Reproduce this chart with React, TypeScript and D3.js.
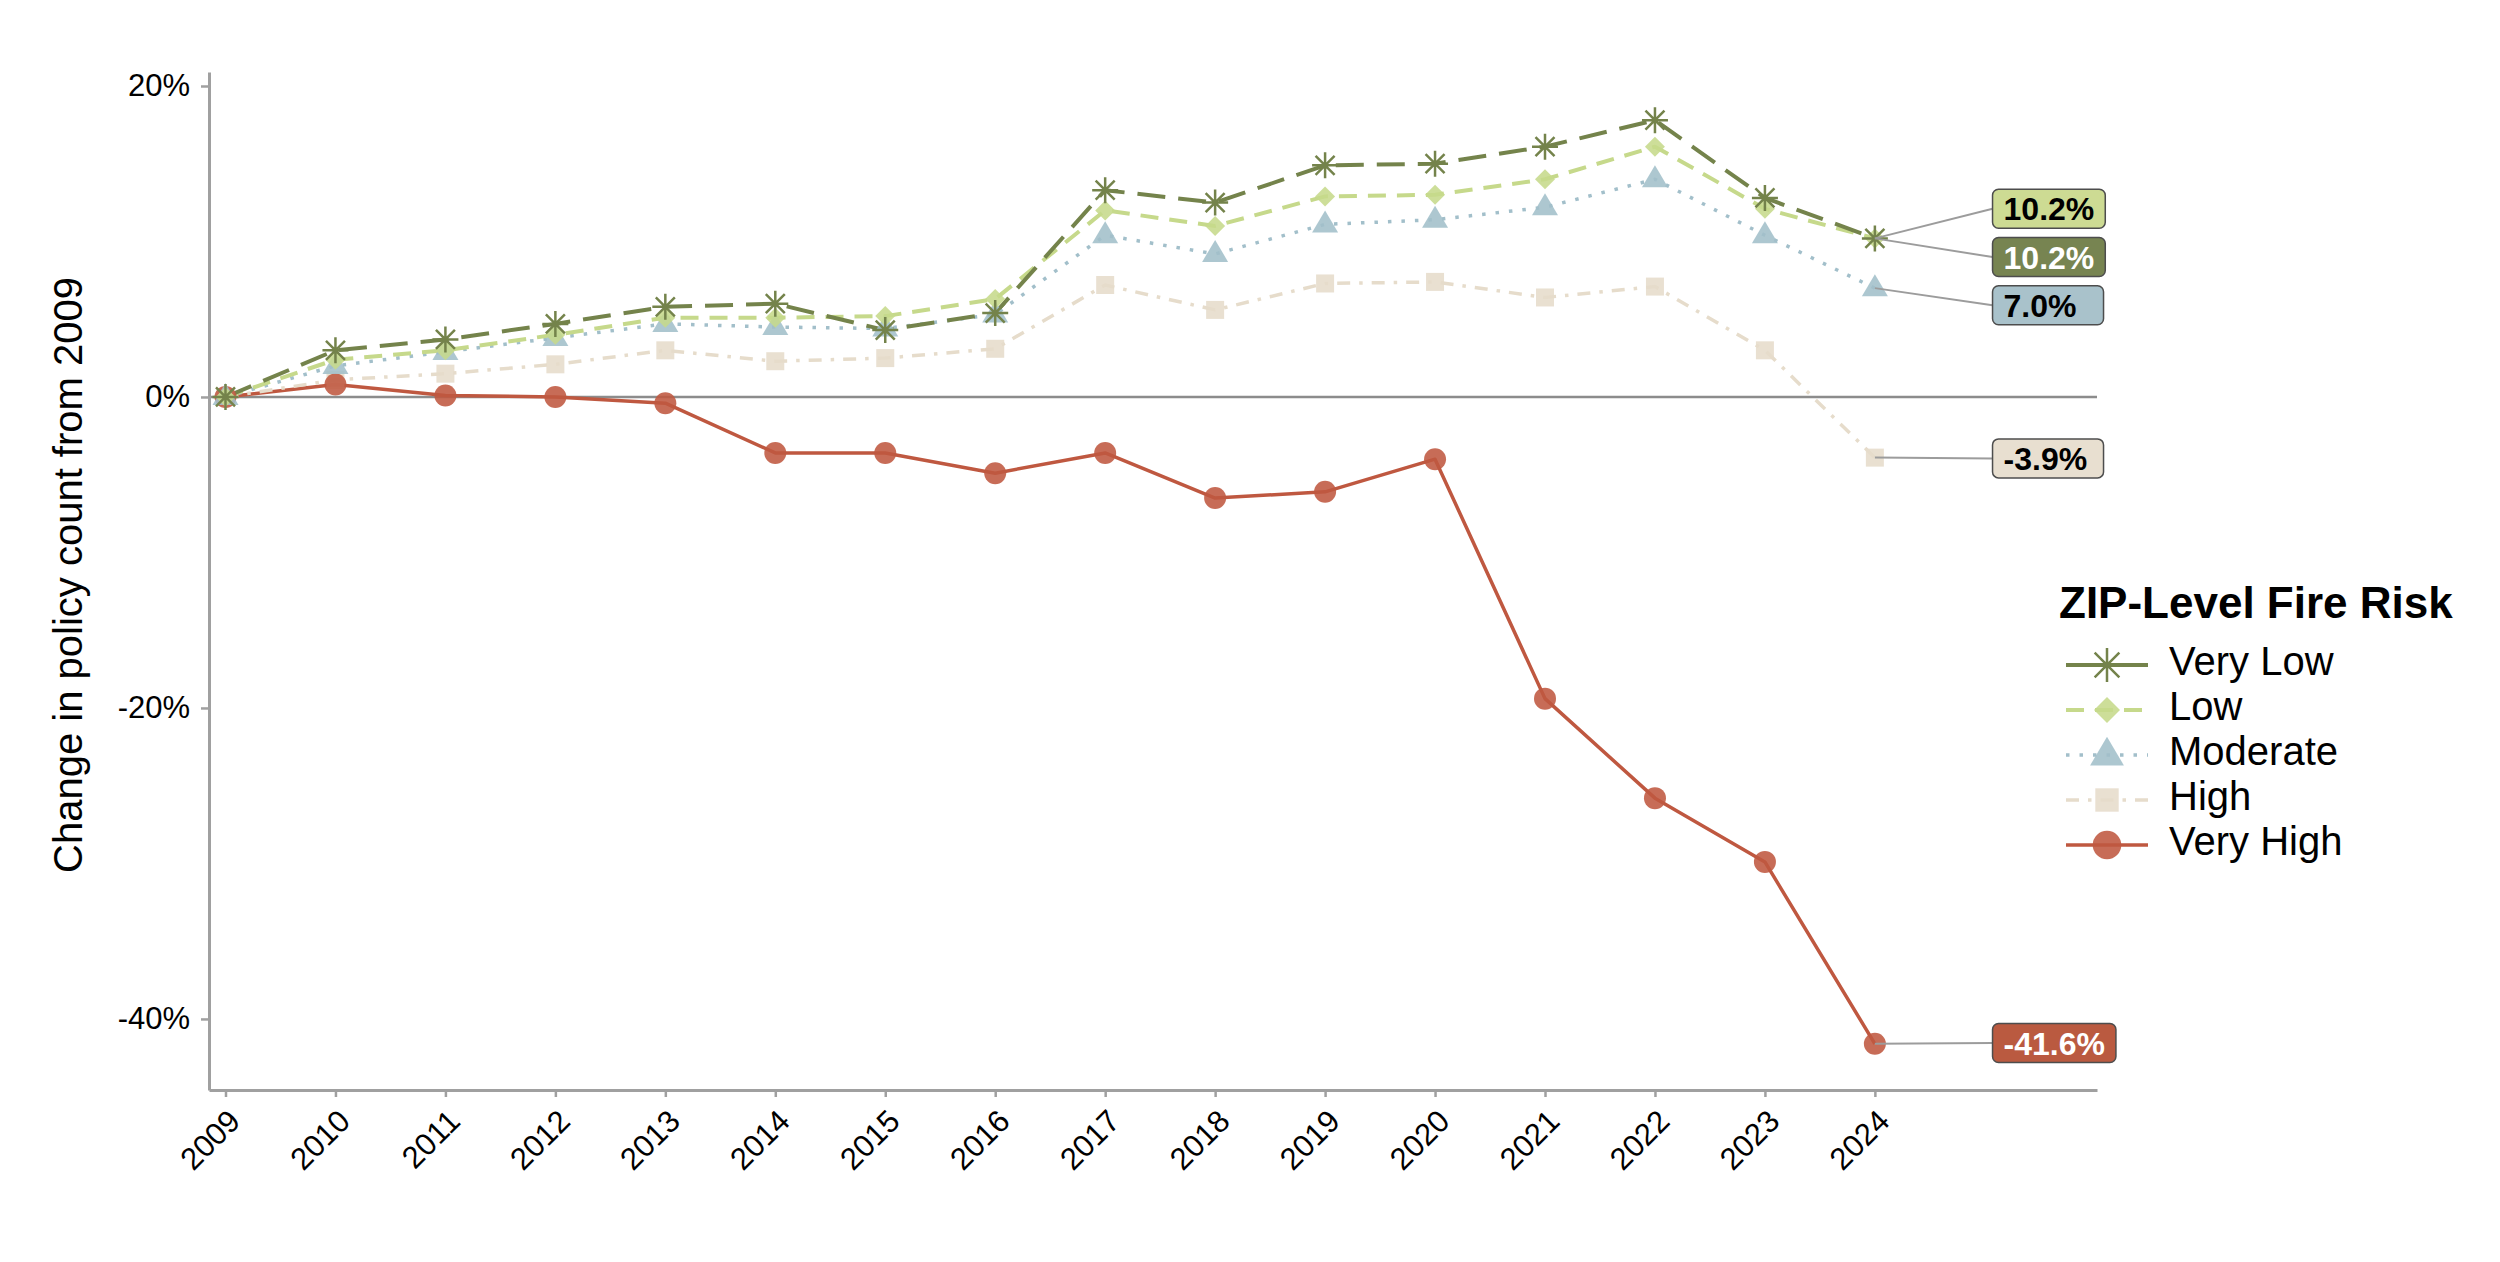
import React, { useEffect, useRef } from 'react';
import * as d3 from 'd3';

const years = [2009, 2010, 2011, 2012, 2013, 2014, 2015, 2016, 2017, 2018, 2019, 2020, 2021, 2022, 2023, 2024];
const veryLow = [0, 3.0, 3.7, 4.7, 5.8, 6.0, 4.3, 5.4, 13.3, 12.5, 14.9, 15.0, 16.1, 17.8, 12.8, 10.2];
const low = [0, 2.4, 3.0, 4.0, 5.1, 5.1, 5.2, 6.3, 12.0, 11.0, 12.9, 13.0, 14.0, 16.1, 12.1, 10.2];
const moderate = [0, 2.0, 2.9, 3.8, 4.7, 4.5, 4.4, 5.3, 10.4, 9.2, 11.1, 11.4, 12.2, 14.0, 10.4, 7.0];
const high = [0, 1.1, 1.5, 2.1, 3.0, 2.3, 2.5, 3.1, 7.2, 5.6, 7.3, 7.4, 6.4, 7.1, 3.0, -3.9];
const veryHigh = [0, 0.8, 0.1, 0.0, -0.4, -3.6, -3.6, -4.9, -3.6, -6.5, -6.1, -4.0, -19.4, -25.8, -29.9, -41.6];

const riskLevels = ['Very Low', 'Low', 'Moderate', 'High', 'Very High'];
const riskColors = ['#74834b', '#c6d98b', '#a2bfca', '#e6dccb', '#bf5840'];
const labelFills = ['#778451', '#cddb93', '#a9c2cb', '#e8dfd0', '#ba5a40'];
const labelInk = ['#ffffff', '#000000', '#000000', '#000000', '#ffffff'];
const endLabels = ['10.2%', '10.2%', '7.0%', '-3.9%', '-41.6%'];
// repelled label positions (value units) for the end labels
const labelAt = [9.0, 12.1, 5.9, -3.95, -41.55];
const yTicks = [20, 0, -20, -40];

const FONT = '"Liberation Sans", Arial, Helvetica, sans-serif';

const dashes = ['28 13', '18 11', '3.5 10', '13 9 3.5 9', null];
const widths = [4, 4, 3.5, 3.5, 3.5];

// marker paths, centred on 0,0
const markerPath = (i: number, s: number) => {
  if (i === 0) {
    const a = 13 * s, b = 9.5 * s;
    return `M0,${-a}V${a}M${-a},0H${a}M${-b},${-b}L${b},${b}M${-b},${b}L${b},${-b}`;
  }
  if (i === 1) {
    const a = 10 * s;
    return `M0,${-a}L${a},0L0,${a}L${-a},0Z`;
  }
  if (i === 2) {
    return `M0,${-14 * s}L${13 * s},${8 * s}L${-13 * s},${8 * s}Z`;
  }
  if (i === 3) {
    const a = 9 * s;
    return `M${-a},${-a}H${a}V${a}H${-a}Z`;
  }
  const r = 11 * s;
  return `M${r},0A${r},${r},0,1,1,${-r},0A${r},${r},0,1,1,${r},0Z`;
};

export default function App() {
  const svgRef = useRef<SVGSVGElement>(null);

  useEffect(() => {
    if (!svgRef.current) return;
    const series = [veryLow, low, moderate, high, veryHigh];

    const svg = d3.select(svgRef.current);
    svg.selectAll('*').remove();
    svg.attr('width', 2500).attr('height', 1262).style('font-family', FONT);

    svg.append('rect').attr('width', 2500).attr('height', 1262).attr('fill', '#ffffff');

    const x = d3.scaleLinear().domain([2008.85, 2026.02]).range([209, 2097]);
    const y = d3.scaleLinear().domain([-44.57, 20.9]).range([1090, 72]);

    // zero reference line
    svg.append('line')
      .attr('x1', x.range()[0]).attr('x2', x.range()[1])
      .attr('y1', y(0)).attr('y2', y(0))
      .attr('stroke', '#8c8c8c').attr('stroke-width', 2.5);

    // axes
    svg.append('g')
      .attr('transform', `translate(${x.range()[0]},0)`)
      .call(d3.axisLeft(y).tickValues(yTicks).tickFormat(d => `${d}%`).tickSize(8).tickSizeOuter(0).tickPadding(11))
      .call(g => g.select('.domain').attr('stroke', '#a0a0a0').attr('stroke-width', 3))
      .call(g => g.selectAll('.tick line').attr('stroke', '#a0a0a0').attr('stroke-width', 2.5))
      .call(g => g.selectAll('.tick text').attr('fill', '#000').attr('font-size', 31).attr('font-family', FONT));

    svg.append('g')
      .attr('transform', `translate(0,${y.range()[0]})`)
      .call(d3.axisBottom(x).tickValues(years).tickFormat(d3.format('d')).tickSize(7).tickSizeOuter(0))
      .call(g => g.select('.domain').attr('stroke', '#a0a0a0').attr('stroke-width', 3))
      .call(g => g.selectAll('.tick line').attr('stroke', '#a0a0a0').attr('stroke-width', 2.5))
      .call(g => g.selectAll('.tick text')
        .attr('fill', '#000').attr('font-size', 31).attr('font-family', FONT)
        .attr('x', 0).attr('y', 0).attr('dy', null)
        .attr('text-anchor', 'end')
        .attr('transform', 'translate(16,33) rotate(-45)'));

    svg.append('text')
      .attr('transform', `translate(82,575) rotate(-90)`)
      .attr('text-anchor', 'middle')
      .attr('font-size', 40)
      .attr('fill', '#000')
      .text('Change in policy count from 2009');

    const line = d3.line<number>()
      .x((_, i) => x(years[i]))
      .y(d => y(d));

    // lines, Very High first so Very Low sits on top
    [4, 3, 2, 1, 0].forEach(i => {
      svg.append('path')
        .datum(series[i])
        .attr('d', line)
        .attr('fill', 'none')
        .attr('stroke', riskColors[i])
        .attr('stroke-width', widths[i])
        .attr('stroke-dasharray', dashes[i])
        .attr('stroke-linejoin', 'round');
    });

    // points
    [3, 4, 2, 1, 0].forEach(i => {
      const g = svg.append('g');
      g.selectAll('path')
        .data(series[i])
        .join('path')
        .attr('transform', (d, j) => `translate(${x(years[j])},${y(d)})`)
        .attr('d', markerPath(i, 1))
        .attr('fill', i === 0 ? 'none' : riskColors[i])
        .attr('fill-opacity', 0.88)
        .attr('stroke', i === 0 ? riskColors[i] : 'none')
        .attr('stroke-width', 2.5);
    });

    // end labels
    const last = years.length - 1;
    const boxLeft = x(2025.07);
    const boxH = 39;
    [0, 1, 2, 3, 4].forEach(i => {
      const cy = y(labelAt[i]);
      svg.append('line')
        .attr('x1', x(years[last])).attr('y1', y(series[i][last]))
        .attr('x2', boxLeft).attr('y2', cy)
        .attr('stroke', '#9c9c9c').attr('stroke-width', 2);
      const g = svg.append('g');
      const rect = g.append('rect');
      const t = g.append('text')
        .attr('x', boxLeft + 11)
        .attr('y', cy + 11.5)
        .attr('font-size', 32)
        .attr('font-weight', 'bold')
        .attr('fill', labelInk[i])
        .text(endLabels[i]);
      const w = (t.node() as SVGTextElement).getComputedTextLength();
      rect.attr('x', boxLeft).attr('y', cy - boxH / 2)
        .attr('width', Math.max(w + 22, 111)).attr('height', boxH)
        .attr('rx', 6).attr('ry', 6)
        .attr('fill', labelFills[i])
        .attr('stroke', '#4d4d4d').attr('stroke-width', 1.5);
    });

    // legend
    const lg = svg.append('g');
    lg.append('text')
      .attr('x', 2059).attr('y', 618)
      .attr('font-size', 44).attr('font-weight', 'bold').attr('fill', '#000')
      .text('ZIP-Level Fire Risk');
    riskLevels.forEach((name, i) => {
      const cy = 665 + i * 45;
      lg.append('line')
        .attr('x1', 2066).attr('x2', 2148).attr('y1', cy).attr('y2', cy)
        .attr('stroke', riskColors[i])
        .attr('stroke-width', widths[i])
        .attr('stroke-dasharray', i === 0 ? null : dashes[i]);
      lg.append('path')
        .attr('transform', `translate(2107,${cy})`)
        .attr('d', markerPath(i, 1.3))
        .attr('fill', i === 0 ? 'none' : riskColors[i])
        .attr('fill-opacity', 0.88)
        .attr('stroke', i === 0 ? riskColors[i] : 'none')
        .attr('stroke-width', 2.5);
      lg.append('text')
        .attr('x', 2169).attr('y', cy + 10)
        .attr('font-size', 40).attr('fill', '#000')
        .text(name);
    });
  }, []);

  return (
    <div style={{ position: 'absolute', left: 0, top: 0 }}>
      <svg ref={svgRef} style={{ display: 'block' }} />
    </div>
  );
}
